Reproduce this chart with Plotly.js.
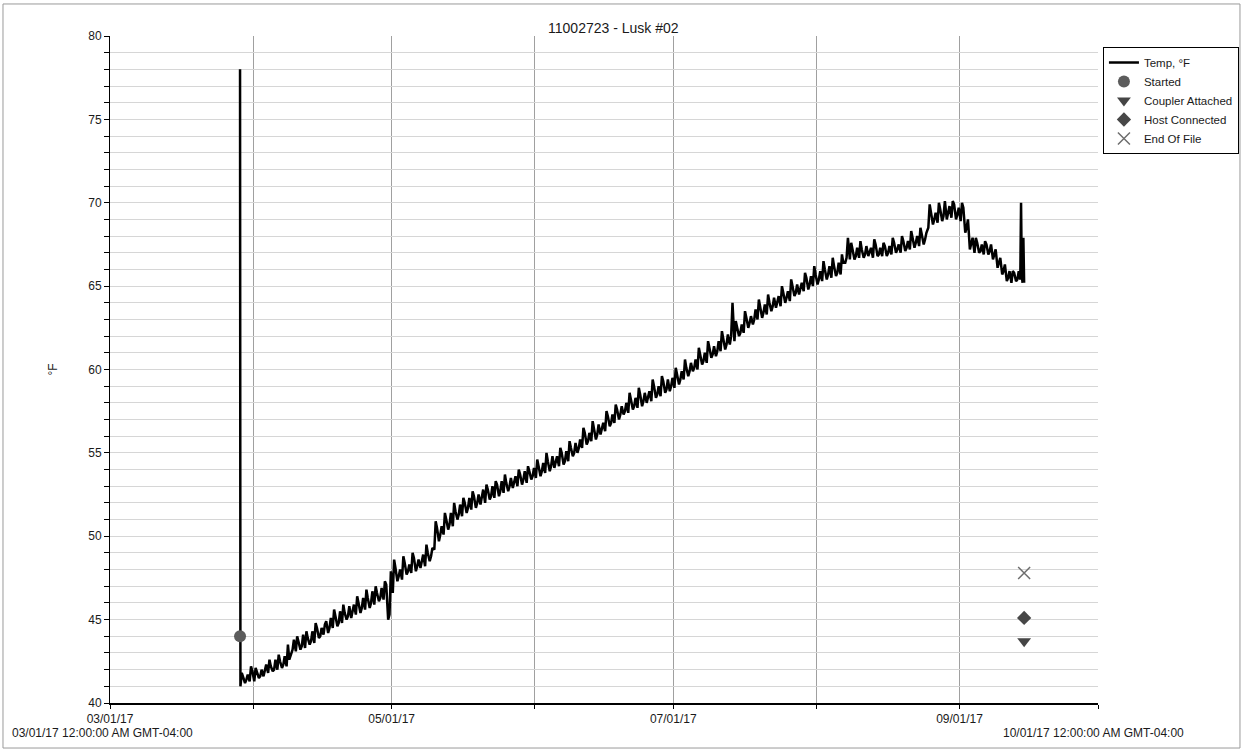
<!DOCTYPE html>
<html>
<head>
<meta charset="utf-8">
<script src="https://cdn.plot.ly/plotly-3.0.1.min.js"></script>
<style>
  html, body { margin: 0; padding: 0; background: #ffffff; }
  #chart { width: 1244px; height: 751px; }
</style>
</head>
<body>
<div id="chart"></div>
<script>
// Logger 11002723 (Lusk #02): three readings per day (06:00 low, 13:00 swing, 20:00 high).
const firstDay = '2017-03-29';

const marLow   = [41.0, 41.2, 41.3];
const marSwing = [41.8, 41.4, 42.2];
const marHigh  = [41.6, 41.7, 41.9];

const aprLow   = [41.3, 41.5, 41.6, 41.8, 41.9, 42.0, 42.1, 42.2, 42.9, 43.1, 43.2, 43.3, 43.5, 43.6, 43.9,
                  44.1, 44.2, 44.5, 44.6, 44.8, 45.0, 45.1, 45.3, 45.4, 45.6, 45.7, 45.9, 46.1, 46.2, 45.0];
const aprSwing = [42.1, 41.6, 42.0, 42.6, 42.0, 42.9, 42.3, 43.5, 43.2, 44.0, 43.4, 44.3, 43.7, 44.8, 44.0,
                  44.7, 44.5, 45.6, 44.8, 45.9, 45.2, 45.5, 46.4, 45.7, 46.8, 46.0, 47.0, 46.3, 47.3, 45.3];
const aprHigh  = [41.9, 42.0, 42.3, 42.2, 42.6, 42.5, 42.8, 42.6, 43.8, 43.7, 44.1, 43.9, 44.3, 44.5, 44.5,
                  44.9, 45.1, 45.2, 45.5, 45.4, 45.8, 45.9, 46.0, 46.3, 46.3, 46.7, 46.6, 46.9, 47.1, 47.9];

const mayLow   = [46.6, 47.3, 47.4, 47.7, 47.8, 47.9, 48.1, 48.2, 48.5, 49.2, 49.7, 50.1, 50.4, 50.6, 51.0,
                  51.2, 51.4, 51.6, 51.7, 51.9, 52.0, 52.2, 52.3, 52.4, 52.6, 52.7, 52.9, 53.0, 53.1, 53.2, 53.4];
const maySwing = [48.6, 47.6, 48.8, 47.9, 49.0, 48.2, 48.6, 49.5, 48.8, 50.9, 50.1, 51.4, 50.7, 52.0, 51.3,
                  52.3, 51.7, 52.7, 52.0, 52.3, 53.1, 52.4, 53.3, 52.7, 53.7, 53.0, 53.2, 54.0, 53.4, 54.2, 53.6];
const mayHigh  = [48.1, 48.0, 48.4, 48.3, 48.7, 48.6, 48.9, 49.0, 49.3, 50.5, 50.6, 51.0, 51.4, 51.5, 51.9,
                  52.0, 52.3, 52.4, 52.5, 52.8, 52.8, 53.0, 53.1, 53.3, 53.2, 53.5, 53.6, 53.7, 53.9, 53.9, 54.1];

const junLow   = [53.5, 53.6, 53.8, 53.9, 54.1, 54.2, 54.3, 54.5, 54.8, 55.0, 55.3, 55.5, 55.7, 55.8, 56.1,
                  56.3, 56.6, 56.8, 57.0, 57.3, 57.4, 57.6, 57.7, 57.8, 58.0, 58.1, 58.3, 58.4, 58.6, 58.7];
const junSwing = [54.6, 53.9, 55.0, 54.2, 54.4, 55.3, 54.5, 55.7, 55.0, 55.3, 56.5, 55.7, 56.9, 56.1, 56.4,
                  57.5, 56.8, 57.9, 57.3, 57.5, 58.6, 57.8, 58.9, 58.1, 58.3, 59.4, 58.5, 59.6, 58.8, 59.0];
const junHigh  = [54.2, 54.4, 54.5, 54.8, 54.8, 55.0, 55.1, 55.3, 55.6, 55.8, 56.2, 56.2, 56.5, 56.7, 56.8,
                  57.2, 57.3, 57.6, 57.8, 58.0, 58.2, 58.3, 58.5, 58.6, 58.7, 59.0, 59.0, 59.3, 59.4, 59.5];

const julLow   = [58.9, 59.1, 59.4, 59.6, 59.9, 60.0, 60.3, 60.4, 60.7, 60.8, 61.1, 61.2, 61.5, 61.7, 62.0,
                  62.2, 62.5, 62.7, 63.0, 63.1, 63.3, 63.5, 63.7, 63.8, 64.0, 64.1, 64.4, 64.5, 64.7, 64.8, 65.0];
const julSwing = [60.1, 59.4, 60.6, 59.9, 60.1, 61.3, 60.5, 61.7, 60.9, 61.1, 62.3, 61.5, 62.0, 62.9, 62.2,
                  63.5, 62.8, 63.0, 64.2, 63.4, 64.5, 63.8, 64.0, 65.0, 64.3, 65.4, 64.6, 64.8, 65.8, 65.1, 66.2];
const julHigh  = [59.6, 59.9, 60.1, 60.4, 60.6, 60.9, 61.0, 61.3, 61.4, 61.7, 61.8, 62.1, 64.0, 62.5, 62.7,
                  63.1, 63.2, 63.6, 63.7, 63.9, 64.0, 64.3, 64.4, 64.6, 64.7, 65.0, 65.1, 65.2, 65.5, 65.6, 65.7];

const augLow   = [65.1, 65.3, 65.4, 65.5, 65.6, 65.7, 66.4, 66.6, 66.6, 66.7, 66.7, 66.8, 66.7, 66.8, 66.8,
                  66.8, 66.9, 67.0, 67.0, 67.1, 67.2, 67.3, 67.4, 67.5, 68.5, 68.7, 68.8, 68.9, 69.0, 69.1, 69.0];
const augSwing = [65.4, 66.5, 65.7, 66.7, 65.8, 66.9, 66.7, 67.6, 66.8, 67.7, 66.9, 67.1, 67.8, 66.9, 67.6,
                  67.0, 67.9, 67.2, 68.0, 67.3, 68.3, 67.6, 68.5, 67.8, 69.9, 69.0, 70.0, 69.2, 69.5, 70.1, 69.3];
const augHigh  = [65.9, 66.0, 66.2, 66.2, 66.4, 66.4, 67.9, 67.2, 67.3, 67.2, 67.4, 67.3, 67.5, 67.3, 67.4,
                  67.4, 67.6, 67.5, 67.7, 67.7, 67.9, 68.0, 68.1, 68.2, 69.4, 69.4, 69.6, 70.1, 69.8, 69.9, 69.7];

const sepLow   = [68.9, 68.2, 67.2, 67.0, 67.0, 66.9, 66.9, 66.6, 66.1, 65.7, 65.3, 65.2, 65.3];
const sepSwing = [70.0, 68.5, 67.5, 67.9, 67.1, 67.7, 67.1, 66.9, 66.4, 65.9, 65.5, 65.9, 65.4];
const sepHigh  = [69.7, 69.0, 67.9, 67.6, 67.5, 67.5, 67.5, 67.2, 66.7, 66.3, 65.9, 65.8, 65.9];

// Launch reading (logger still warm) and the last readings before download.
const startTimes = ['2017-03-29 04:00'];
const startTemps = [78.0];
const tailTimes  = ['2017-09-14 04:00', '2017-09-14 08:00', '2017-09-14 12:00', '2017-09-14 16:00', '2017-09-14 20:00', '2017-09-15 00:00'];
const tailTemps  = [65.4, 70.0, 65.6, 65.2, 67.9, 65.2];

// Logger events
const startedTime = ['2017-03-29 04:00'];
const startedTemp = [44.0];
const couplerTime = ['2017-09-15 00:00'];
const couplerTemp = [43.7];
const hostTime    = ['2017-09-15 00:00'];
const hostTemp    = [45.1];
const eofTime     = ['2017-09-15 00:00'];
const eofTemp     = [47.8];

// Axis ticks
const monthTicks  = ['2017-03-01', '2017-04-01', '2017-05-01', '2017-06-01', '2017-07-01', '2017-08-01', '2017-09-01', '2017-10-01'];
const monthLabels = ['03/01/17', '', '05/01/17', '', '07/01/17', '', '09/01/17', ''];
const tempTicks = [];
for (let t = 40; t <= 80; t++) tempTicks.push(t);
const tempLabels = tempTicks.map(t => (t % 5 === 0 ? String(t) : ''));

// Assemble the time series in reading order.
const lows   = [].concat(marLow, aprLow, mayLow, junLow, julLow, augLow, sepLow);
const swings = [].concat(marSwing, aprSwing, maySwing, junSwing, julSwing, augSwing, sepSwing);
const highs  = [].concat(marHigh, aprHigh, mayHigh, junHigh, julHigh, augHigh, sepHigh);
const x = startTimes.slice();
const y = startTemps.slice();
const d0 = new Date(firstDay + 'T00:00:00Z');
for (let i = 0; i < lows.length; i++) {
  const day = new Date(d0.getTime() + i * 86400000).toISOString().slice(0, 10);
  x.push(day + ' 06:00'); y.push(lows[i]);
  x.push(day + ' 13:00'); y.push(swings[i]);
  x.push(day + ' 20:00'); y.push(highs[i]);
}
tailTimes.forEach((t, i) => { x.push(t); y.push(tailTemps[i]); });

const font = 'Liberation Sans, Arial, sans-serif';
const ink = '#1a1a1a';

const traces = [
  { x: x, y: y, type: 'scatter', mode: 'lines', name: 'Temp, °F',
    line: { color: '#000000', width: 2.5 } },
  { x: startedTime, y: startedTemp, type: 'scatter', mode: 'markers', name: 'Started',
    marker: { symbol: 'circle', size: 12, color: '#5c5c5c' } },
  { x: couplerTime, y: couplerTemp, type: 'scatter', mode: 'markers', name: 'Coupler Attached',
    marker: { symbol: 'triangle-down', size: 12, color: '#454545' } },
  { x: hostTime, y: hostTemp, type: 'scatter', mode: 'markers', name: 'Host Connected',
    marker: { symbol: 'diamond', size: 11, color: '#474747' } },
  { x: eofTime, y: eofTemp, type: 'scatter', mode: 'markers', name: 'End Of File',
    marker: { symbol: 'x-thin-open', size: 12, color: '#6e6e6e', line: { width: 1.5, color: '#6e6e6e' } } }
];

const layout = {
  width: 1244, height: 751,
  margin: { l: 110, r: 146, t: 36, b: 48, autoexpand: false },
  paper_bgcolor: '#ffffff', plot_bgcolor: '#ffffff',
  font: { family: font, size: 12, color: ink },
  title: { text: '11002723 - Lusk #02', xref: 'container', x: 0.493, yref: 'container', y: 0.963,
           xanchor: 'center', yanchor: 'middle',
           font: { family: font, size: 14, color: ink } },
  showlegend: true,
  legend: { x: 1.005, xanchor: 'left', y: 0.9835, yanchor: 'top',
            bgcolor: '#ffffff', bordercolor: '#000000', borderwidth: 1,
            font: { family: font, size: 11.5, color: ink }, itemwidth: 30, tracegroupgap: 0 },
  xaxis: {
    type: 'date', range: ['2017-03-01', '2017-10-01'],
    tickmode: 'array', tickvals: monthTicks, ticktext: monthLabels,
    ticks: 'outside', ticklen: 4, tickcolor: '#000000', tickwidth: 1,
    showline: true, linecolor: '#000000', linewidth: 2,
    showgrid: true, gridcolor: '#a0a0a0', gridwidth: 1, zeroline: false,
    tickfont: { family: font, size: 12, color: ink }
  },
  yaxis: {
    range: [40, 80],
    tickmode: 'array', tickvals: tempTicks, ticktext: tempLabels,
    ticks: 'outside', ticklen: 5, tickcolor: '#000000', tickwidth: 1,
    showline: true, linecolor: '#000000', linewidth: 1,
    showgrid: true, gridcolor: '#d6d6d6', gridwidth: 1, zeroline: false,
    tickfont: { family: font, size: 12, color: ink },
    title: { text: '°F', standoff: 28, font: { family: font, size: 12, color: ink } }
  },
  annotations: [
    { text: '03/01/17 12:00:00 AM GMT-04:00', xref: 'paper', yref: 'paper', x: -0.1012, y: -0.0445,
      xanchor: 'left', yanchor: 'middle', showarrow: false, font: { family: font, size: 12, color: ink } },
    { text: '10/01/17 12:00:00 AM GMT-04:00', xref: 'paper', yref: 'paper', x: 0.9018, y: -0.0445,
      xanchor: 'left', yanchor: 'middle', showarrow: false, font: { family: font, size: 12, color: ink } }
  ],
  shapes: [
    { type: 'rect', xref: 'paper', yref: 'paper', x0: -0.1083, x1: 1.1437, y0: -0.0675, y1: 1.0480,
      line: { color: '#9a9a9a', width: 1 }, fillcolor: 'rgba(0,0,0,0)', layer: 'below' }
  ]
};

Plotly.newPlot('chart', traces, layout, { displayModeBar: false, staticPlot: true });
</script>
</body>
</html>
